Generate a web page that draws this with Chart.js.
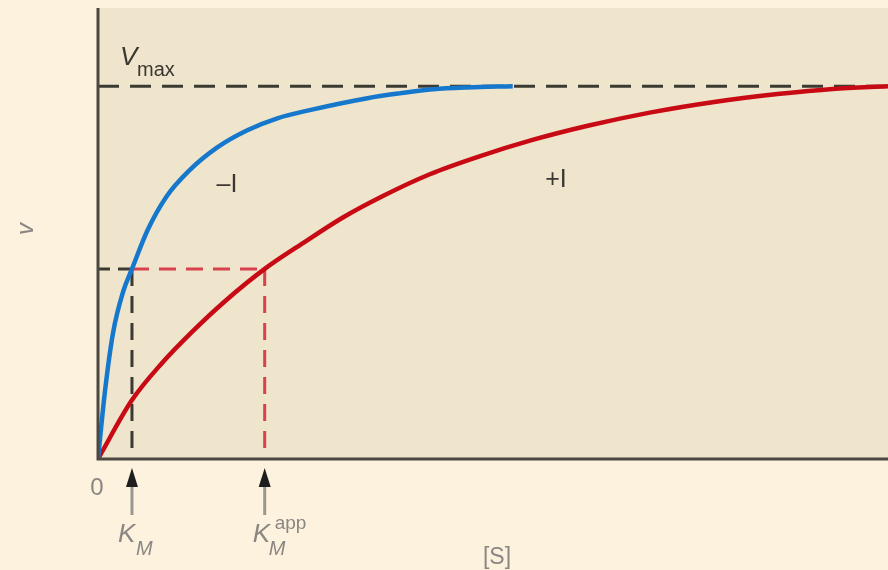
<!DOCTYPE html>
<html>
<head>
<meta charset="utf-8">
<script src="https://cdn.jsdelivr.net/npm/chart.js@4.4.1/dist/chart.umd.min.js"></script>
<style>
  html, body { margin: 0; padding: 0; background: #fcf2dd; }
  #wrap { width: 888px; height: 570px; }
</style>
</head>
<body>
<div id="wrap"><canvas id="mmChart" width="888" height="570"></canvas></div>
<script>
// values ([S] on 0..100, v with Vmax = 100)
const VMAX   = 100;
const HALF_V = 51;
const KM     = 4.3;
const KM_APP = 21.1;

// -I (no inhibitor)
const noInhS = [0, 0.9, 1.9, 3.2, 4.3, 6.3, 8.7, 11.6, 15.1, 18.9, 22.7, 26.8, 34.1, 38.2, 42.4, 46.7, 52.5];
const noInhV = [0, 18.5, 33.8, 45, 51, 61.5, 70.5, 77.5, 83.6, 88.2, 91.4, 93.6, 96.8, 98.1, 99.2, 99.7, 100];

// +I (with inhibitor)
const inhS = [0, 4.3, 8, 12, 16, 21.1, 26, 31, 36, 42, 48, 55, 62, 70, 78, 86, 93, 100];
const inhV = [0, 15.8, 25.5, 34.3, 42.2, 51, 58, 64.8, 70.5, 76.4, 81, 85.6, 89.4, 93, 95.8, 97.9, 99.3, 100];

const pts = (xs, ys) => xs.map((x, i) => ({ x: x, y: ys[i] }));

const BLACK_DASH = '#3b3a32';
const RED_DASH   = '#d8414c';
const FONT       = "'Liberation Sans', Arial, sans-serif";
const GREY_TXT   = '#8a8783';

const dashed = (data, color, dash) => ({
    data: data,
    borderColor: color,
    borderWidth: 3,
    borderDash: dash,
    pointRadius: 0,
    fill: false,
    order: 5,
});

const bgPlugin = {
    id: 'bg',
    beforeDraw(chart) {
        const { ctx, chartArea: a } = chart;
        ctx.save();
        ctx.fillStyle = '#fcf2dd';
        ctx.fillRect(0, 0, chart.width, chart.height);
        ctx.fillStyle = '#efe4cc';
        ctx.fillRect(a.left, a.top, a.right - a.left, a.bottom - a.top);
        ctx.restore();
    },
    afterDatasetsDraw(chart) {
        const { ctx, chartArea: a } = chart;
        ctx.save();
        ctx.strokeStyle = '#4d4741';
        ctx.lineWidth = 3;
        ctx.beginPath();
        ctx.moveTo(a.left, a.top);
        ctx.lineTo(a.left, a.bottom);
        ctx.lineTo(a.right, a.bottom);
        ctx.stroke();
        ctx.restore();
    },
    afterDraw(chart) {
        const { ctx, chartArea: a, scales: { x, y } } = chart;
        ctx.save();
        ctx.textBaseline = 'alphabetic';
        ctx.textAlign = 'left';

        // Vmax label
        ctx.fillStyle = '#3a3630';
        ctx.font = 'italic 26px ' + FONT;
        ctx.fillText('V', 120, 65);
        ctx.font = '20px ' + FONT;
        ctx.fillText('max', 137, 76);

        // curve labels
        ctx.font = '25px ' + FONT;
        ctx.textAlign = 'center';
        ctx.fillText('\u2013I', 227, 192);
        ctx.fillText('+I', 556, 187);

        // origin, [S], v
        ctx.fillStyle = GREY_TXT;
        ctx.font = '24px ' + FONT;
        ctx.fillText('0', x.getPixelForValue(0) - 1, a.bottom + 36);
        ctx.font = '23px ' + FONT;
        ctx.fillText('[S]', 497, 564);
        ctx.save();
        ctx.translate(33, 229);
        ctx.rotate(-Math.PI / 2);
        ctx.font = 'italic 24px ' + FONT;
        ctx.fillText('v', 0, 0);
        ctx.restore();

        // arrows under KM and KM app
        [KM, KM_APP].forEach(k => {
            const px = x.getPixelForValue(k);
            ctx.strokeStyle = '#9a9792';
            ctx.lineWidth = 3;
            ctx.beginPath();
            ctx.moveTo(px, a.bottom + 24);
            ctx.lineTo(px, a.bottom + 56);
            ctx.stroke();
            ctx.fillStyle = '#1e1e1e';
            ctx.beginPath();
            ctx.moveTo(px, a.bottom + 9);
            ctx.lineTo(px - 6, a.bottom + 28);
            ctx.lineTo(px + 6, a.bottom + 28);
            ctx.closePath();
            ctx.fill();
        });

        // K_M labels
        ctx.fillStyle = GREY_TXT;
        ctx.textAlign = 'left';
        const km = x.getPixelForValue(KM);
        ctx.font = 'italic 26px ' + FONT;
        ctx.fillText('K', km - 14, 542);
        ctx.font = 'italic 20px ' + FONT;
        ctx.fillText('M', km + 4, 555);

        const ka = x.getPixelForValue(KM_APP);
        ctx.font = 'italic 26px ' + FONT;
        ctx.fillText('K', ka - 12, 542);
        ctx.font = 'italic 20px ' + FONT;
        ctx.fillText('M', ka + 4, 555);
        ctx.font = '19px ' + FONT;
        ctx.fillText('app', ka + 10, 529);
        ctx.restore();
    }
};

new Chart(document.getElementById('mmChart'), {
    type: 'line',
    data: {
        datasets: [
            {
                label: '-I',
                data: pts(noInhS, noInhV),
                borderColor: '#1578cc',
                borderWidth: 4.5,
                pointRadius: 0,
                cubicInterpolationMode: 'monotone',
                fill: false,
                order: 1,
            },
            {
                label: '+I',
                data: pts(inhS, inhV),
                borderColor: '#c80a14',
                borderWidth: 4.5,
                pointRadius: 0,
                cubicInterpolationMode: 'monotone',
                fill: false,
                order: 2,
            },
            dashed([{ x: 0, y: VMAX }, { x: 100, y: VMAX }], BLACK_DASH, [21, 11]),
            dashed([{ x: 0, y: HALF_V }, { x: KM, y: HALF_V }], BLACK_DASH, [12, 8]),
            dashed([{ x: KM, y: HALF_V }, { x: KM, y: 0 }], BLACK_DASH, [17, 10]),
            dashed([{ x: KM, y: HALF_V }, { x: KM_APP, y: HALF_V }], RED_DASH, [17, 10]),
            dashed([{ x: KM_APP, y: HALF_V }, { x: KM_APP, y: 0 }], RED_DASH, [17, 10]),
        ]
    },
    plugins: [bgPlugin],
    options: {
        responsive: false,
        animation: false,
        layout: { padding: { left: 98, right: 0, top: 8, bottom: 111 } },
        plugins: {
            legend: { display: false },
            tooltip: { enabled: false },
        },
        scales: {
            x: { type: 'linear', min: 0, max: 100, display: false },
            y: { type: 'linear', min: 0, max: 121, display: false },
        },
    }
});
</script>
</body>
</html>
